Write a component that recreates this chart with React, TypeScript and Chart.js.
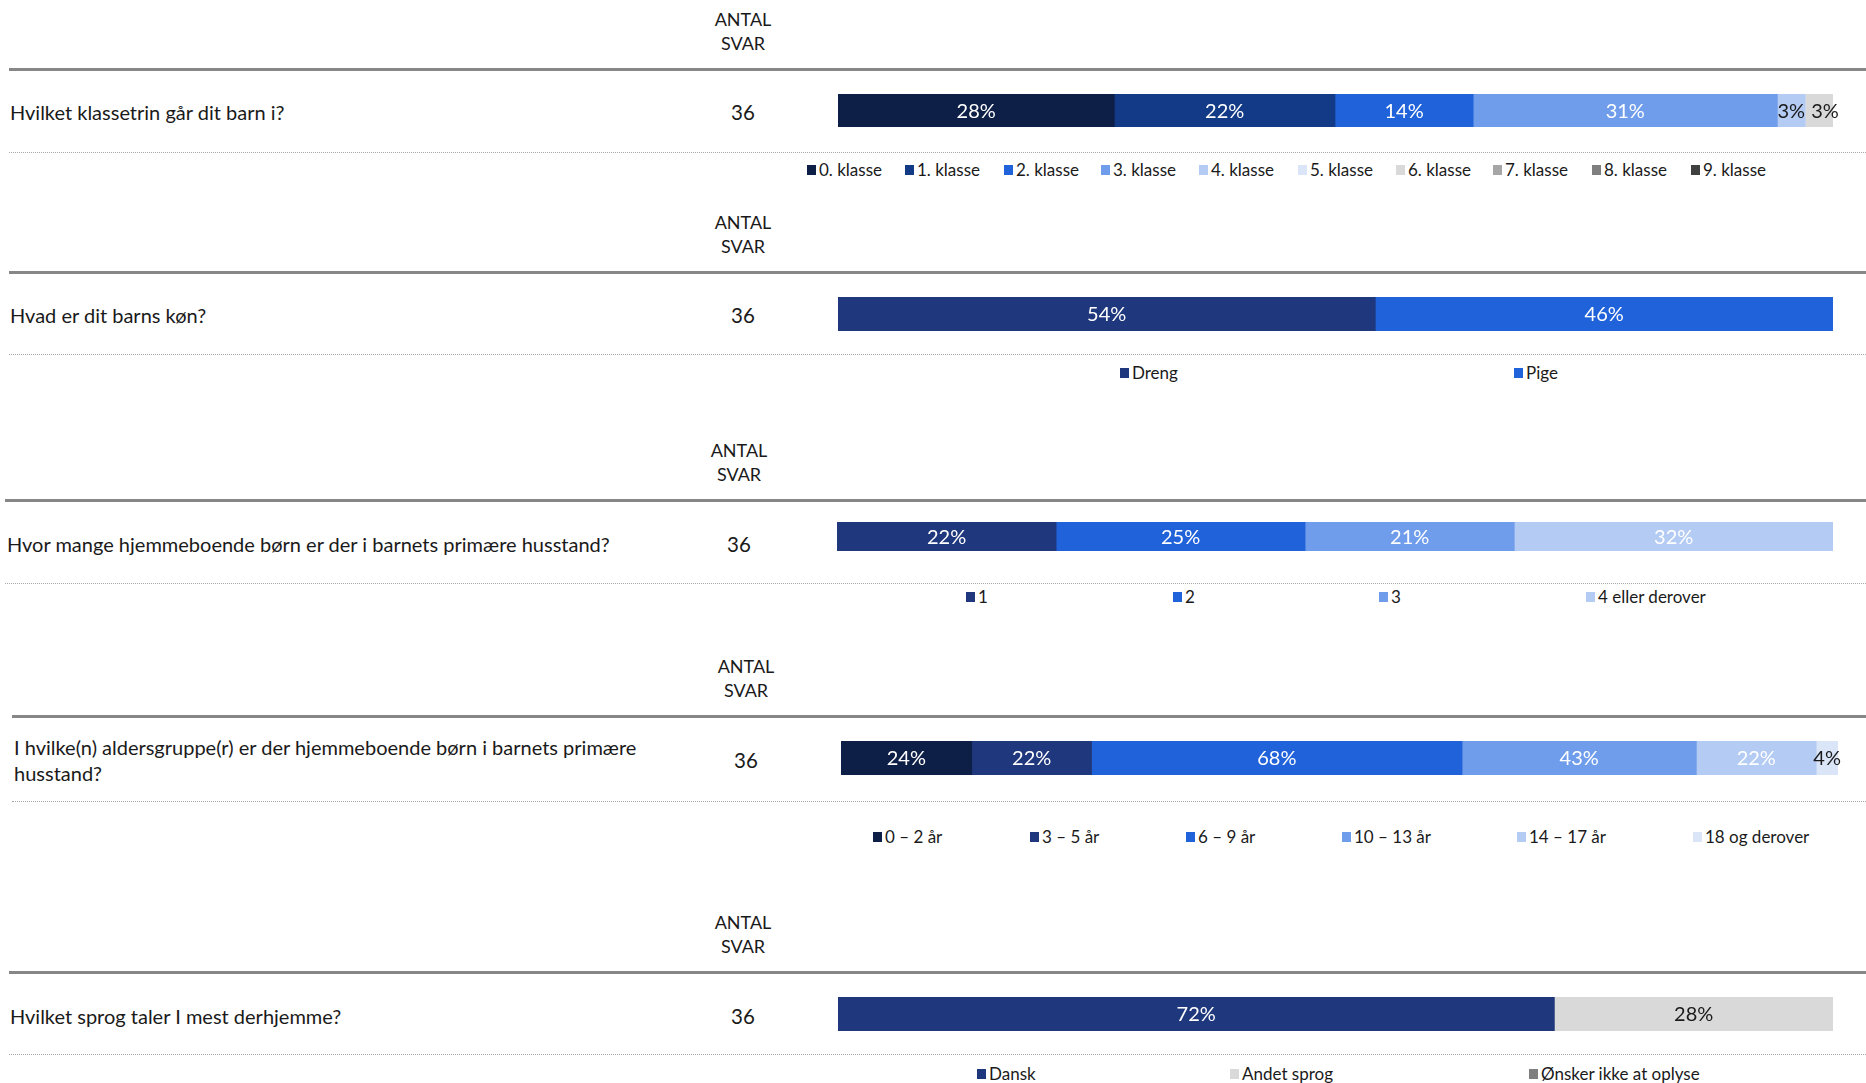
import React, { useEffect, useRef } from "react";
import { Chart, registerables } from "chart.js";

Chart.register(...registerables);

// ---------- DATA ----------
const questions = [
  "Hvilket klassetrin går dit barn i?",
  "Hvad er dit barns køn?",
  "Hvor mange hjemmeboende børn er der i barnets primære husstand?",
  "I hvilke(n) aldersgruppe(r) er der hjemmeboende børn i barnets primære husstand?",
  "Hvilket sprog taler I mest derhjemme?",
];
const answerCounts = [36, 36, 36, 36, 36];

const q1Categories = ["0. klasse", "1. klasse", "2. klasse", "3. klasse", "4. klasse", "5. klasse", "6. klasse", "7. klasse", "8. klasse", "9. klasse"];
const q1Values = [27.8, 22.2, 13.9, 30.6, 2.8, 0, 2.8, 0, 0, 0];

const q2Categories = ["Dreng", "Pige"];
const q2Values = [54, 46];

const q3Categories = ["1", "2", "3", "4 eller derover"];
const q3Values = [22, 25, 21, 32];

const q4Categories = ["0 – 2 år", "3 – 5 år", "6 – 9 år", "10 – 13 år", "14 – 17 år", "18 og derover"];
const q4Values = [24, 22, 68, 43, 22, 4];

const q5Categories = ["Dansk", "Andet sprog", "Ønsker ikke at oplyse"];
const q5Values = [72, 28, 0];

const headerLines = ["ANTAL", "SVAR"];

// ---------- STYLES ----------
const C = {
  navyDark: "#0E1F47",
  blue1: "#133A86",
  navy: "#1F377C",
  blue: "#1F62D9",
  mid: "#6F9DEB",
  light: "#B4CBF4",
  lighter: "#DAE5F8",
  g1: "#D9D9D9",
  g2: "#A6A6A6",
  g3: "#7F7F7F",
  g4: "#404040",
};
const WHITE = "#FFFFFF";
const DARK = "#1A1A1A";

const FONT = 'Lato, "Noto Sans", sans-serif';

interface SectionStyle {
  colors: string[];
  labelColors: string[];
  labelDx: number[];
  lineY: number;
  lineX: number;
  qX: number;
  qY: number;
  countX: number;
  barLeft: number;
  barRight: number;
  barTop: number;
  barH: number;
  dottedY: number;
  legendY: number;
  legendX: number[];
}

const sectionStyles: SectionStyle[] = [
  {
    colors: [C.navyDark, C.blue1, C.blue, C.mid, C.light, C.lighter, C.g1, C.g2, C.g3, C.g4],
    labelColors: [WHITE, WHITE, WHITE, WHITE, DARK, DARK, DARK, WHITE, WHITE, WHITE],
    labelDx: [0, 0, 0, 0, 0, 0, 6, 0, 0, 0],
    lineY: 69, lineX: 9, qX: 10, qY: 112, countX: 743,
    barLeft: 838, barRight: 1833, barTop: 94, barH: 33,
    dottedY: 152, legendY: 170,
    legendX: [807, 905, 1004, 1101, 1199, 1298, 1396, 1493, 1592, 1691],
  },
  {
    colors: [C.navy, C.blue],
    labelColors: [WHITE, WHITE],
    labelDx: [0, 0],
    lineY: 272, lineX: 9, qX: 10, qY: 315, countX: 743,
    barLeft: 838, barRight: 1833, barTop: 297, barH: 34,
    dottedY: 354, legendY: 373,
    legendX: [1120, 1514],
  },
  {
    colors: [C.navy, C.blue, C.mid, C.light],
    labelColors: [WHITE, WHITE, WHITE, WHITE],
    labelDx: [0, 0, 0, 0],
    lineY: 500, lineX: 5, qX: 7, qY: 544, countX: 739,
    barLeft: 837, barRight: 1833, barTop: 522, barH: 29,
    dottedY: 583, legendY: 597,
    legendX: [966, 1173, 1379, 1586],
  },
  {
    colors: [C.navyDark, C.navy, C.blue, C.mid, C.light, C.lighter],
    labelColors: [WHITE, WHITE, WHITE, WHITE, WHITE, DARK],
    labelDx: [0, 0, 0, 0, 0, 0],
    lineY: 716, lineX: 12, qX: 14, qY: 760, countX: 746,
    barLeft: 841, barRight: 1838, barTop: 741, barH: 34,
    dottedY: 801, legendY: 837,
    legendX: [873, 1030, 1186, 1342, 1517, 1693],
  },
  {
    colors: [C.navy, C.g1, C.g3],
    labelColors: [WHITE, DARK, WHITE],
    labelDx: [0, 0, 0],
    lineY: 972, lineX: 9, qX: 10, qY: 1016, countX: 743,
    barLeft: 838, barRight: 1833, barTop: 997, barH: 34,
    dottedY: 1054, legendY: 1074,
    legendX: [977, 1230, 1529],
  },
];

const sectionCategories = [q1Categories, q2Categories, q3Categories, q4Categories, q5Categories];
const sectionValues = [q1Values, q2Values, q3Values, q4Values, q5Values];

const PAGE_W = 1866;
const PAGE_H = 1083;

const labelPlugin = {
  id: "segLabels",
  afterDatasetsDraw(chart: any) {
    const ctx = chart.ctx;
    const cfg = chart.options.plugins.segLabels;
    const labelColors: string[] = cfg.colors;
    const dx: number[] = cfg.dx;
    ctx.save();
    ctx.font = `20px ${FONT}`;
    ctx.textAlign = "center";
    ctx.textBaseline = "middle";
    chart.data.datasets.forEach((ds: any, i: number) => {
      const v = ds.data[0];
      if (!v) return;
      const meta = chart.getDatasetMeta(i);
      const el = meta.data[0];
      if (!el) return;
      const p = el.getProps(["x", "y", "base"], true);
      ctx.fillStyle = labelColors[i];
      ctx.fillText(`${Math.round(v)}%`, (p.x + p.base) / 2 + (dx[i] || 0), p.y + 1);
    });
    ctx.restore();
  },
};

function BarChart({ categories, values, style }: { categories: string[]; values: number[]; style: SectionStyle }) {
  const ref = useRef<HTMLCanvasElement | null>(null);
  const padRight = PAGE_W - style.barRight;
  const width = PAGE_W - style.barLeft;
  useEffect(() => {
    if (!ref.current) return;
    const total = values.reduce((a, b) => a + b, 0);
    const chart = new Chart(ref.current, {
      type: "bar",
      data: {
        labels: [""],
        datasets: categories.map((c, i) => ({
          label: c,
          data: [values[i]],
          backgroundColor: style.colors[i],
          borderWidth: 0,
          barPercentage: 1,
          categoryPercentage: 1,
        })),
      },
      options: {
        indexAxis: "y",
        animation: false,
        responsive: false,
        maintainAspectRatio: false,
        devicePixelRatio: 1,
        layout: { padding: { left: 0, right: padRight, top: 0, bottom: 0 } },
        scales: {
          x: { stacked: true, min: 0, max: total, display: false },
          y: { stacked: true, display: false },
        },
        plugins: {
          legend: { display: false },
          tooltip: { enabled: false },
          segLabels: { colors: style.labelColors, dx: style.labelDx },
        } as any,
      },
      plugins: [labelPlugin],
    });
    return () => chart.destroy();
  }, [categories, values, style]);
  return (
    <canvas
      ref={ref}
      width={width}
      height={style.barH}
      style={{ position: "absolute", left: style.barLeft, top: style.barTop, width, height: style.barH }}
    />
  );
}

function Section({ idx }: { idx: number }) {
  const s = sectionStyles[idx];
  const cats = sectionCategories[idx];
  const vals = sectionValues[idx];
  const q = questions[idx];
  const twoLine = idx === 3;
  return (
    <>
      {headerLines.map((h, k) => (
        <div
          key={h}
          style={{
            position: "absolute",
            left: s.countX - 60,
            width: 120,
            top: s.lineY - 62 + k * 24,
            height: 24,
            lineHeight: "24px",
            textAlign: "center",
            fontSize: 18,
            color: DARK,
          }}
        >
          {h}
        </div>
      ))}
      <div style={{ position: "absolute", left: s.lineX, right: 0, top: s.lineY - 1, height: 3, background: "#878787" }} />
      <div
        style={{
          position: "absolute",
          left: s.qX,
          top: s.qY - (twoLine ? 26 : 13),
          lineHeight: "26px",
          fontSize: 20,
          whiteSpace: "nowrap",
          color: DARK,
        }}
      >
        {twoLine ? (
          <>
            I hvilke(n) aldersgruppe(r) er der hjemmeboende børn i barnets primære
            <br />
            husstand?
          </>
        ) : (
          q
        )}
      </div>
      <div
        style={{
          position: "absolute",
          left: s.countX - 40,
          width: 80,
          top: s.qY - 13,
          lineHeight: "26px",
          textAlign: "center",
          fontSize: 20.5,
          color: DARK,
        }}
      >
        {answerCounts[idx]}
      </div>
      <BarChart categories={cats} values={vals} style={s} />
      <div style={{ position: "absolute", left: s.lineX, right: 0, top: s.dottedY, height: 0, borderTop: "1px dotted #A8A8A8" }} />
      {cats.map((c, i) => {
        const top = Math.min(s.legendY - 9, PAGE_H - 18);
        return (
          <div
            key={c}
            style={{
              position: "absolute",
              left: s.legendX[i],
              top,
              height: 18,
              lineHeight: "18px",
              display: "flex",
              alignItems: "center",
              whiteSpace: "nowrap",
              fontSize: 17,
              color: DARK,
            }}
          >
            <span style={{ display: "inline-block", width: 9, height: 10, background: s.colors[i], marginRight: 3 }} />
            {c}
          </div>
        );
      })}
    </>
  );
}

export default function App() {
  return (
    <div
      style={{
        position: "absolute",
        left: 0,
        top: 0,
        width: PAGE_W,
        height: PAGE_H,
        overflow: "hidden",
        background: "#FFFFFF",
        fontFamily: FONT,
      }}
    >
      {questions.map((_, i) => (
        <Section key={i} idx={i} />
      ))}
    </div>
  );
}
